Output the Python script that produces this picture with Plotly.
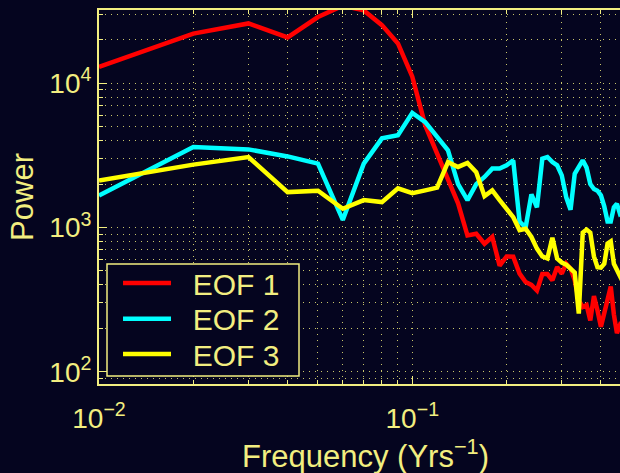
import plotly.graph_objects as go

# Frequencies (cycles per year)
freq = [0.01, 0.02, 0.03, 0.04, 0.05, 0.06, 0.07, 0.08, 0.09, 0.10,
        0.11, 0.12, 0.13, 0.14, 0.15, 0.16, 0.17, 0.18, 0.19, 0.20,
        0.21, 0.22, 0.23, 0.24, 0.25, 0.26, 0.27, 0.28, 0.29, 0.30,
        0.31, 0.32, 0.33, 0.34, 0.35, 0.36, 0.37, 0.38, 0.39, 0.40,
        0.41, 0.42, 0.43, 0.44, 0.45, 0.46, 0.47]

# Power spectra of the first three EOF principal components
eof1 = [13000, 22100, 26000, 20800, 28800, 34500, 32000, 25300, 18900, 11100,
        5100, 3250, 2120, 1470, 880, 904, 771, 860, 544, 630,
        627, 479, 419, 400, 366, 476, 476, 430, 533, 479,
        562, 519, 430, 313, 281, 290, 227, 335, 267, 205,
        255, 313, 390, 250, 185, 210, 200]

eof2 = [1667, 3610, 3480, 3110, 2770, 1128, 2770, 4150, 4360, 6230,
        5380, 4240, 3430, 2000, 1550, 2000, 2240, 2560, 2560, 2700,
        2920, 1100, 1000, 1700, 1380, 3000, 3080, 2840, 2700, 2300,
        1620, 1330, 2360, 2630, 2920, 2600, 2000, 1850, 1800, 1670,
        1400, 1100, 1100, 1380, 1460, 1250, 1300]

eof3 = [2120, 2730, 3080, 1760, 1800, 1350, 1550, 1500, 1870, 1730,
        1810, 1890, 2840, 2630, 2800, 2420, 1650, 1810, 1550, 1360,
        1180, 960, 980, 860, 714, 630, 610, 850, 610, 572,
        553, 519, 487, 253, 922, 968, 922, 630, 530, 527,
        560, 773, 800, 560, 505, 473, 420]

series_names = ["EOF 1", "EOF 2", "EOF 3"]
series_colors = ["#ff0000", "#00ffff", "#ffff00"]

x_tickvals = [0.01, 0.1]
x_ticktext = ["10<sup>\u22122</sup>", "10<sup>\u22121</sup>"]
x_minor = [0.02, 0.03, 0.04, 0.05, 0.06, 0.07, 0.08, 0.09,
           0.2, 0.3, 0.4, 0.5]
y_tickvals = [100, 1000, 10000]
y_ticktext = ["10<sup>2</sup>", "10<sup>3</sup>", "10<sup>4</sup>"]
y_minor = [90, 200, 300, 400, 500, 600, 700, 800, 900,
           2000, 3000, 4000, 5000, 6000, 7000, 8000, 9000, 20000, 30000]

BG = "#05051f"
FG = "#f2ee80"
GRID = "rgba(235,232,120,0.85)"
FONT = "Liberation Sans, Arial, Helvetica, sans-serif"

# one legend per series so the rows can be spaced freely
legend_ids = ["legend", "legend2", "legend3"]
legend_tops = [0.3396, 0.2441, 0.1497]

fig = go.Figure()
for name, vals, col, lid in zip(series_names, [eof1, eof2, eof3],
                                series_colors, legend_ids):
    fig.add_trace(go.Scatter(x=freq, y=vals, mode="lines",
                             name="\u00a0\u00a0" + name, legend=lid,
                             line=dict(color=col, width=4.5)))

axis_common = dict(
    type="log",
    showline=True, linecolor=FG, linewidth=2,
    ticks="inside", ticklen=8, tickwidth=1, tickcolor=FG,
    showgrid=True, gridcolor=GRID, gridwidth=1, griddash="1px,5px",
    tickfont=dict(family=FONT, size=28, color=FG),
    zeroline=False,
)

fig.update_xaxes(
    **axis_common,
    range=[-2, -0.337],
    tickmode="array", tickvals=x_tickvals, ticktext=x_ticktext,
    mirror="ticks", ticklabelstandoff=8,
    minor=dict(tickmode="array", tickvals=x_minor, ticks="inside", ticklen=4,
               tickcolor=FG, showgrid=True, gridcolor=GRID, gridwidth=1,
               griddash="1px,5px"),
)
fig.update_yaxes(
    **axis_common,
    range=[1.915, 4.508],
    tickmode="array", tickvals=y_tickvals, ticktext=y_ticktext,
    mirror=False,
    minor=dict(tickmode="array", tickvals=y_minor, ticks="inside", ticklen=4,
               tickcolor=FG, showgrid=True, gridcolor=GRID, gridwidth=1,
               griddash="1px,5px"),
)

# Axis titles
fig.add_annotation(text="Frequency (Yrs<sup>\u22121</sup>)", xref="paper", yref="paper",
                   x=0.5106, y=-0.187, xanchor="center", yanchor="middle",
                   showarrow=False, font=dict(family=FONT, size=31, color=FG))
fig.add_annotation(text="Power", xref="paper", yref="paper",
                   x=-0.148, y=0.5, xanchor="center", yanchor="middle",
                   textangle=-90, showarrow=False,
                   font=dict(family=FONT, size=31, color=FG))

# Legend frame (the legend entries sit on top of it)
fig.add_shape(type="rect", xref="paper", yref="paper",
              x0=0.01536, x1=0.3839, y0=0.02139, y1=0.3209,
              line=dict(color=FG, width=1.5), fillcolor=BG, layer="above")

legend_style = dict(x=0.0365, xanchor="left", yanchor="top",
                    bgcolor="rgba(0,0,0,0)", borderwidth=0,
                    font=dict(family=FONT, size=30, color=FG),
                    itemwidth=48, tracegroupgap=0)

fig.update_layout(
    width=620, height=473,
    margin=dict(l=99, r=0, t=10, b=89),
    paper_bgcolor=BG, plot_bgcolor=BG,
    font=dict(family=FONT, size=28, color=FG),
    showlegend=True,
    **{lid: dict(legend_style, y=top) for lid, top in zip(legend_ids, legend_tops)},
)

fig.write_html("out.html")
